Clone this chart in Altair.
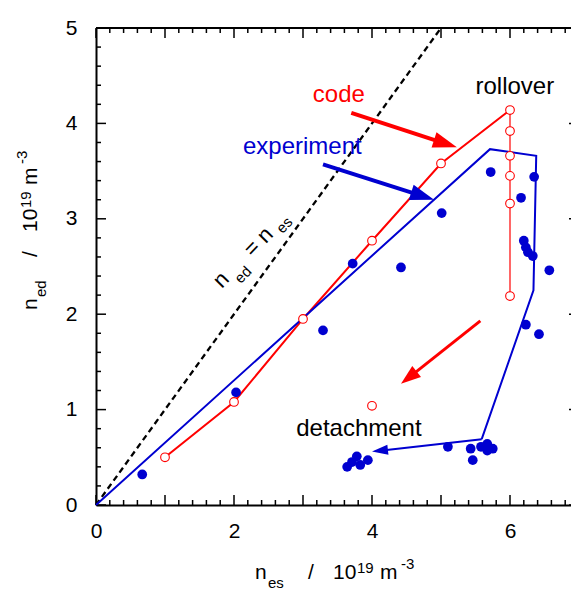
import math
import pandas as pd
import altair as alt

# ---------------- data ----------------
# code (open red circles)
code_nes = [1.0, 2.0, 3.0, 4.0, 5.0, 6.0]
code_ned = [0.50, 1.08, 1.95, 2.77, 3.58, 4.14]
roll_nes = [6.0, 6.0, 6.0, 6.0, 6.0, 6.0]
roll_ned = [4.14, 3.92, 3.66, 3.45, 3.16, 2.19]
detcode_nes = [4.0]
detcode_ned = [1.04]

# experiment (filled blue dots)
exp_nes = [0.67, 2.03, 3.29, 3.72, 4.42, 5.01, 5.72, 6.35, 6.16, 6.20, 6.23, 6.26,
           6.33, 6.57, 6.23, 6.42, 5.10, 5.43, 5.46, 5.58, 5.67, 5.75, 5.67,
           3.64, 3.71, 3.78, 3.83, 3.94]
exp_ned = [0.32, 1.18, 1.83, 2.53, 2.49, 3.06, 3.49, 3.44, 3.22, 2.77, 2.70, 2.65,
           2.61, 2.46, 1.89, 1.79, 0.61, 0.59, 0.47, 0.61, 0.64, 0.59, 0.57,
           0.40, 0.45, 0.51, 0.42, 0.47]

# experiment trend line
trend_nes = [0.0, 5.71, 6.38, 6.34, 5.59]
trend_ned = [0.0, 3.73, 3.66, 2.25, 0.69]

# n_ed = n_es
equal_nes = [0.0, 5.0]
equal_ned = [0.0, 5.0]

# arrows: start -> tip (data units)
arrow_x1 = [3.70, 3.29, 5.57, 5.59]
arrow_y1 = [4.11, 3.57, 1.93, 0.69]
arrow_x2 = [5.23, 4.90, 4.42, 4.00]
arrow_y2 = [3.75, 3.20, 1.27, 0.56]

# annotations
ann_text = ["code", "experiment", "rollover", "detachment"]
ann_x = [3.52, 2.99, 6.07, 3.81]
ann_y = [4.30, 3.75, 4.38, 0.80]

eq_text = ["n", "ed", "=", "n", "es"]
eq_x = [1.81, 2.131, 2.26, 2.45, 2.731]
eq_y = [2.36, 2.413, 2.69, 2.83, 2.933]

xt_text = ["n", "es", "/", "10", "19", "m", "-3"]
xt_x = [2.304, 2.493, 3.072, 3.435, 3.783, 4.116, 4.420]
xt_y = [-0.776, -0.870, -0.776, -0.776, -0.713, -0.776, -0.671]

yt_text = ["n", "ed", "/", "10", "19", "m", "-3"]
yt_x = [-0.855, -0.725, -0.855, -0.855, -0.942, -0.855, -1.000]
yt_y = [2.044, 2.180, 2.600, 2.862, 3.113, 3.354, 3.574]

x_labels = [0, 2, 4, 6]
y_labels = [0, 1, 2, 3, 4, 5]
x_major = [0, 1, 2, 3, 4, 5, 6, 7]
y_major = [0, 1, 2, 3, 4, 5]
x_minor = [round(i * 0.2, 1) for i in range(36) if i % 5]
y_minor = [round(i * 0.2, 1) for i in range(26) if i % 5]

# ---------------- styles ----------------
RED = "#ff0000"
BLUE = "#0000d0"
FONT = "Liberation Sans"
W, H = 483, 477
XD, YD = [0, 7], [0, 5]
SX, SY = W / (XD[1] - XD[0]), H / (YD[1] - YD[0])
arrow_color = [RED, BLUE, RED, BLUE]
arrow_width = [4, 4, 3, 2]
head_len = [24, 24, 20, 16]
head_half = [8, 8, 7, 5]
main_sizes_sub = {"ed": 15, "es": 15, "19": 15, "-3": 15}

xscale = alt.Scale(domain=XD, nice=False, zero=False)
yscale = alt.Scale(domain=YD, nice=False, zero=False)
ax_x = alt.Axis(values=x_labels, ticks=False, tickSize=0, grid=False, domain=True,
                domainColor="black", domainWidth=2, labelFont=FONT, labelFontSize=21,
                labelColor="black", labelPadding=15, labelFlush=False, labelOverlap=False,
                title=None)
ax_y = alt.Axis(values=y_labels, ticks=False, tickSize=0, grid=False, domain=True,
                domainColor="black", domainWidth=2, labelFont=FONT, labelFontSize=21,
                labelColor="black", labelPadding=19, labelFlush=False, labelOverlap=False,
                title=None)


def X(f="x"):
    return alt.X(f"{f}:Q", scale=xscale, axis=ax_x)


def Y(f="y"):
    return alt.Y(f"{f}:Q", scale=yscale, axis=ax_y)


# ---------------- tables ----------------
ticks = []
for v in x_major:
    ticks += [(v, 0, v, 10 / SY), (v, 5, v, 5 - 10 / SY)]
for v in x_minor:
    ticks += [(v, 0, v, 5 / SY), (v, 5, v, 5 - 5 / SY)]
for v in y_major:
    ticks += [(0, v, 10 / SX, v), (7, v, 7 - 10 / SX, v)]
for v in y_minor:
    ticks += [(0, v, 5 / SX, v), (7, v, 7 - 5 / SX, v)]
ticks_df = pd.DataFrame(ticks, columns=["x", "y", "x2", "y2"])
frame_df = pd.DataFrame([(0, 5, 7, 5), (7, 0, 7, 5)], columns=["x", "y", "x2", "y2"])

equal_df = pd.DataFrame({"x": equal_nes, "y": equal_ned})
code_df = pd.DataFrame({"x": code_nes, "y": code_ned})
roll_df = pd.DataFrame({"x": roll_nes, "y": roll_ned})
circ_df = pd.DataFrame({"x": code_nes + roll_nes[1:] + detcode_nes,
                        "y": code_ned + roll_ned[1:] + detcode_ned})
exp_df = pd.DataFrame({"x": exp_nes, "y": exp_ned})
trend_df = pd.DataFrame({"x": trend_nes, "y": trend_ned, "o": list(range(len(trend_nes)))})

shafts, heads = [], []
for i in range(len(arrow_x1)):
    dxp = (arrow_x2[i] - arrow_x1[i]) * SX
    dyp = -(arrow_y2[i] - arrow_y1[i]) * SY
    L = math.hypot(dxp, dyp)
    ux, uy = dxp / L, dyp / L
    half = head_len[i] / 2
    cx = arrow_x2[i] - half * ux / SX
    cy = arrow_y2[i] + half * uy / SY
    ang = math.degrees(math.atan2(dyp, dxp)) % 360
    r = head_half[i] / half
    shape = f"M 1 0 L -1 {-r:.3f} L -1 {r:.3f} Z"
    shafts.append(dict(x=arrow_x1[i], y=arrow_y1[i], x2=cx, y2=cy,
                       c=arrow_color[i], w=arrow_width[i]))
    heads.append(dict(x=cx, y=cy, a=ang, s=head_len[i] ** 2, shape=shape, c=arrow_color[i]))
shaft_df = pd.DataFrame(shafts)
head_df = pd.DataFrame(heads)

ann_df = pd.DataFrame({"x": ann_x, "y": ann_y, "t": ann_text,
                       "c": [RED, BLUE, "black", "black"], "fs": [24] * 4, "a": [0] * 4})
eq_df = pd.DataFrame({"x": eq_x, "y": eq_y, "t": eq_text, "c": ["black"] * 5,
                      "fs": [main_sizes_sub.get(t, 22) for t in eq_text], "a": [314] * 5})
mid_df = pd.concat([ann_df, eq_df], ignore_index=True)
title_df = pd.DataFrame({
    "x": xt_x + yt_x, "y": xt_y + yt_y, "t": xt_text + yt_text,
    "fs": [main_sizes_sub.get(t, 21) for t in xt_text + yt_text],
    "a": [0] * len(xt_text) + [270] * len(yt_text)})

# ---------------- layers ----------------
equal_l = alt.Chart(equal_df).mark_line(color="black", strokeWidth=2.3, strokeDash=[6, 4]).encode(
    x=X(), y=Y())
ticks_l = alt.Chart(ticks_df).mark_rule(color="black", strokeWidth=1.5).encode(
    x=X(), y=Y(), x2="x2:Q", y2="y2:Q")
frame_l = alt.Chart(frame_df).mark_rule(color="black", strokeWidth=2).encode(
    x=X(), y=Y(), x2="x2:Q", y2="y2:Q")
code_l = alt.Chart(code_df).mark_line(color=RED, strokeWidth=2).encode(x=X(), y=Y())
roll_l = alt.Chart(roll_df).mark_line(color=RED, strokeWidth=1.2).encode(x=X(), y=Y())
trend_l = alt.Chart(trend_df).mark_line(color=BLUE, strokeWidth=2).encode(
    x=X(), y=Y(), order="o:Q")
shaft_l = alt.Chart(shaft_df).mark_rule().encode(
    x=X(), y=Y(), x2="x2:Q", y2="y2:Q",
    color=alt.Color("c:N", scale=None), strokeWidth=alt.StrokeWidth("w:Q", scale=None))
head_l = alt.Chart(head_df).mark_point(filled=True, opacity=1, strokeWidth=0).encode(
    x=X(), y=Y(), angle=alt.Angle("a:Q", scale=None), size=alt.Size("s:Q", scale=None),
    shape=alt.Shape("shape:N", scale=None), color=alt.Color("c:N", scale=None))
circ_l = alt.Chart(circ_df).mark_point(shape="circle", filled=False, fill="white", fillOpacity=1,
                                      color=RED, strokeWidth=1.1, size=75, opacity=1).encode(
    x=X(), y=Y())
exp_l = alt.Chart(exp_df).mark_point(shape="circle", filled=True, color=BLUE, size=95,
                                     opacity=1).encode(x=X(), y=Y())
mid_l = alt.Chart(mid_df).mark_text(font=FONT, align="center", baseline="middle").encode(
    x=X(), y=Y(), text="t:N", color=alt.Color("c:N", scale=None),
    size=alt.Size("fs:Q", scale=None), angle=alt.Angle("a:Q", scale=None))
title_l = alt.Chart(title_df).mark_text(font=FONT, align="left", baseline="alphabetic",
                                        color="black").encode(
    x=X(), y=Y(), text="t:N", size=alt.Size("fs:Q", scale=None),
    angle=alt.Angle("a:Q", scale=None))

chart = alt.layer(
    equal_l, ticks_l, frame_l, code_l, roll_l, trend_l, shaft_l, head_l, circ_l, exp_l,
    mid_l, title_l
).properties(
    width=W, height=H,
    autosize=alt.AutoSizeParams(type="none"),
    padding={"left": 96, "top": 28, "right": 571 - 96 - W, "bottom": 590 - 28 - H},
).configure_view(stroke=None).configure(background="white")

chart.save("out.html", embed_options={"renderer": "svg", "actions": False})
